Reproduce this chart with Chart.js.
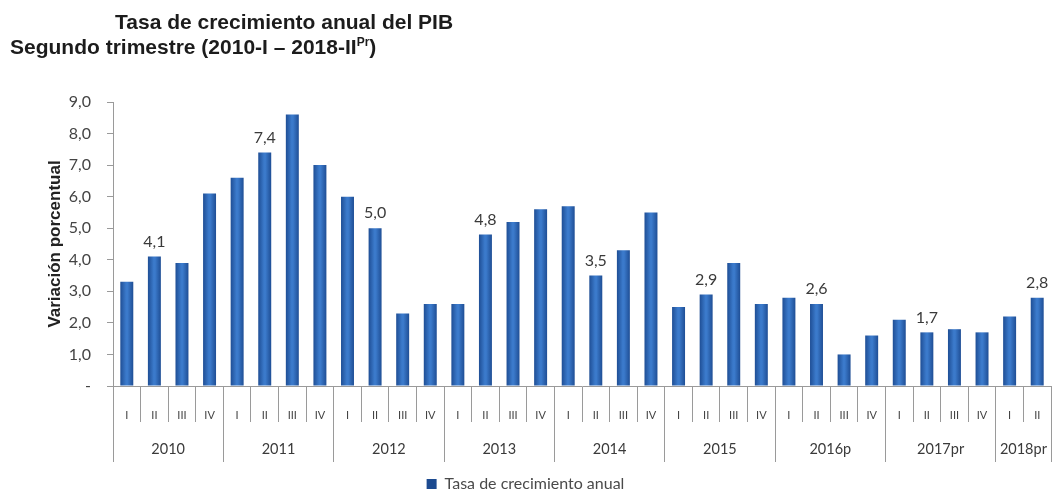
<!DOCTYPE html>
<html>
<head>
<meta charset="utf-8">
<script src="https://cdn.jsdelivr.net/npm/chart.js@4.4.1/dist/chart.umd.min.js"></script>
<style>
  html, body { margin: 0; padding: 0; background: #fff; }
  #wrap { position: relative; width: 1052px; height: 492px; overflow: hidden; }
  #c { position: absolute; left: 0; top: 0; }
  .ttl { position: absolute; font-family: "Liberation Sans", Arial, sans-serif; font-weight: bold;
         font-size: 21px; line-height: 21px; color: #1c1c1c; white-space: nowrap; z-index: 2; }
  .ttl sup { font-size: 12px; line-height: 0; vertical-align: 8px; }
</style>
</head>
<body>
<div id="wrap">
  <div class="ttl" style="left:115px; top:11px;">Tasa de crecimiento anual del PIB</div>
  <div class="ttl" style="left:10px; top:36px;">Segundo trimestre (2010-I – 2018-II<sup>Pr</sup>)</div>
  <canvas id="c" width="1052" height="492"></canvas>
</div>
<script>
// ---- Data ----
const years = ['2010', '2011', '2012', '2013', '2014', '2015', '2016p', '2017pr', '2018pr'];
const quartersPerYear = [4, 4, 4, 4, 4, 4, 4, 4, 2];
const quarters = [
  'I','II','III','IV',
  'I','II','III','IV',
  'I','II','III','IV',
  'I','II','III','IV',
  'I','II','III','IV',
  'I','II','III','IV',
  'I','II','III','IV',
  'I','II','III','IV',
  'I','II'
];
const growth = [
  3.3, 4.1, 3.9, 6.1,
  6.6, 7.4, 8.6, 7.0,
  6.0, 5.0, 2.3, 2.6,
  2.6, 4.8, 5.2, 5.6,
  5.7, 3.5, 4.3, 5.5,
  2.5, 2.9, 3.9, 2.6,
  2.8, 2.6, 1.0, 1.6,
  2.1, 1.7, 1.8, 1.7,
  2.2, 2.8
];
const yTicks = [0, 1, 2, 3, 4, 5, 6, 7, 8, 9];
const labeledQuarter = 'II';
const seriesName = 'Tasa de crecimiento anual';

// year group boundaries and centres (in category index units)
const yearBounds = [];
const yearCenters = [];
let acc = -0.5;
yearBounds.push(acc);
quartersPerYear.forEach(n => { yearCenters.push(acc + n / 2); acc += n; yearBounds.push(acc); });

const fmt = v => v.toFixed(1).replace('.', ',');
const AXIS = '#9a9a9a';
const FONT = 'Lato, "Open Sans", sans-serif';

const valueLabels = {
  id: 'valueLabels',
  afterDatasetsDraw(chart) {
    const ctx = chart.ctx;
    const meta = chart.getDatasetMeta(0);
    ctx.save();
    ctx.font = '16px ' + FONT;
    ctx.fillStyle = '#3a3a3a';
    ctx.textAlign = 'center';
    ctx.textBaseline = 'bottom';
    meta.data.forEach((bar, i) => {
      if (quarters[i] === labeledQuarter) ctx.fillText(fmt(growth[i]), bar.x, bar.y - 7);
    });
    ctx.restore();
  }
};

new Chart(document.getElementById('c'), {
  type: 'bar',
  data: {
    labels: quarters,
    datasets: [{
      label: seriesName,
      data: growth,
      backgroundColor: (c) => {
        const chart = c.chart;
        const xs = chart.scales && chart.scales.x;
        if (c.type !== 'data' || !xs || !chart.chartArea) return '#2d62ad';
        const cx = xs.getPixelForValue(c.dataIndex);
        const g = chart.ctx.createLinearGradient(cx - 7, 0, cx + 7, 0);
        g.addColorStop(0, '#1c4a90');
        g.addColorStop(0.45, '#3b7acb');
        g.addColorStop(0.55, '#3b7acb');
        g.addColorStop(1, '#1c4a90');
        return g;
      },
      borderWidth: 0,
      barPercentage: 0.94,
      categoryPercentage: 0.5
    }]
  },
  options: {
    responsive: false,
    animation: false,
    devicePixelRatio: 1,
    layout: { padding: { top: 102, left: 0, right: 1, bottom: -10 } },
    plugins: {
      legend: {
        position: 'bottom',
        labels: { boxWidth: 10, boxHeight: 10, padding: 0, color: '#4a4a4a', font: { family: FONT, size: 16 } }
      },
      tooltip: { enabled: false }
    },
    scales: {
      x: {
        type: 'category',
        position: 'bottom',
        weight: 0,
        offset: true,
        border: { display: true, color: AXIS, width: 1 },
        grid: { display: true, drawOnChartArea: false, drawTicks: true, offset: true, tickLength: 36, color: AXIS },
        ticks: { autoSkip: false, maxRotation: 0, padding: -13, color: '#444', font: { family: FONT, size: 11 } },
        afterFit: s => { s.height = 36; }
      },
      years: {
        type: 'linear',
        position: 'bottom',
        weight: 1,
        min: -0.5,
        max: 33.5,
        offset: false,
        border: { display: false },
        grid: {
          display: true, drawOnChartArea: false, drawTicks: true, tickLength: 40, offset: false,
          color: c => (c.tick && yearBounds.includes(c.tick.value)) ? AXIS : 'rgba(0,0,0,0)'
        },
        afterBuildTicks: s => {
          s.ticks = yearBounds.concat(yearCenters).sort((a, b) => a - b).map(v => ({ value: v }));
        },
        ticks: {
          autoSkip: false, maxRotation: 0, padding: -21, color: '#3a3a3a', font: { family: FONT, size: 14.5 },
          callback: v => { const k = yearCenters.indexOf(v); return k >= 0 ? years[k] : ''; }
        },
        afterFit: s => { s.height = 54; }
      },
      y: {
        min: 0,
        max: 9,
        afterBuildTicks: s => { s.ticks = yTicks.map(v => ({ value: v })); },
        border: { display: true, color: AXIS, width: 1 },
        grid: { display: true, drawOnChartArea: false, drawTicks: true, tickLength: 6, color: AXIS },
        ticks: {
          padding: 16, color: '#444', font: { family: FONT, size: 16 },
          callback: v => v === 0 ? '-' : fmt(v)
        },
        title: {
          display: true, text: 'Variación porcentual', color: '#222',
          font: { family: '"Liberation Sans", Arial, sans-serif', size: 17, weight: 'bold' },
          padding: { top: 45, bottom: 0 }
        },
        afterFit: s => { s.width = 113; }
      }
    }
  },
  plugins: [valueLabels]
});
</script>
</body>
</html>
